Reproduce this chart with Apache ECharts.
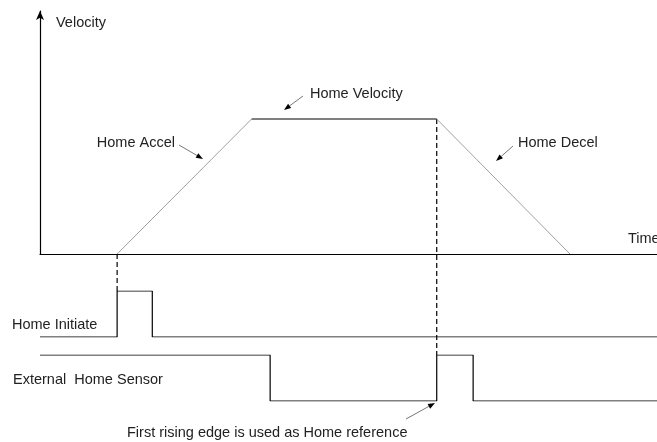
<!DOCTYPE html>
<html>
<head>
<meta charset="utf-8">
<script src="https://cdn.jsdelivr.net/npm/echarts@6/dist/echarts.min.js"></script>
<style>
  html, body { margin: 0; padding: 0; background: #fff; }
  #chart { width: 657px; height: 442px; }
</style>
</head>
<body>
<div id="chart"></div>
<script>
// time runs 0..100 along every trace
const velTime = [12.5, 34.3, 64.3, 85.9];
const velValue = [0, 1, 1, 0];
const initTime = [0, 12.5, 18.2, 100];
const initLevel = [0, 1, 0, 0];
const sensorTime = [0, 37.3, 64.3, 70.2, 100];
const sensorLevel = [1, 0, 1, 0, 0];

const FONT = '"Liberation Sans", Arial, sans-serif';
const TXT = '#222';

const chart = echarts.init(document.getElementById('chart'));

function pts(xs, ys, from, to) {
  let out = [];
  for (let i = from; i <= to; i++) out.push([xs[i], ys[i]]);
  return out;
}

function hiddenAxis(idx, extra) {
  return Object.assign({
    gridIndex: idx, type: 'value', min: 0, max: 100,
    show: false
  }, extra || {});
}

chart.setOption({
  animation: false,
  grid: [
    { left: 40, right: 0, top: 11, bottom: 188 },
    { left: 40, right: 0, top: 291, bottom: 105 },
    { left: 40, right: 0, top: 355, bottom: 41 }
  ],
  xAxis: [
    {
      gridIndex: 0, type: 'value', min: 0, max: 100,
      axisLine: { show: true, lineStyle: { color: '#000', width: 1.2 } },
      axisTick: { show: false }, axisLabel: { show: false }, splitLine: { show: false }
    },
    hiddenAxis(1),
    hiddenAxis(2)
  ],
  yAxis: [
    {
      gridIndex: 0, type: 'value', min: 0, max: 1.8,
      axisLine: { show: true, symbol: ['none', 'arrow'], symbolSize: [6, 9],
        lineStyle: { color: '#000', width: 1.2 } },
      axisTick: { show: false }, axisLabel: { show: false }, splitLine: { show: false }
    },
    { gridIndex: 1, type: 'value', min: 0, max: 1, show: false },
    { gridIndex: 2, type: 'value', min: 0, max: 1, show: false }
  ],
  series: [
    { name: 'accel', type: 'line', xAxisIndex: 0, yAxisIndex: 0, symbol: 'none',
      lineStyle: { color: '#a0a0a0', width: 1 }, data: pts(velTime, velValue, 0, 1) },
    { name: 'hold', type: 'line', xAxisIndex: 0, yAxisIndex: 0, symbol: 'none',
      lineStyle: { color: '#000', width: 1.2 }, data: pts(velTime, velValue, 1, 2) },
    { name: 'decel', type: 'line', xAxisIndex: 0, yAxisIndex: 0, symbol: 'none',
      lineStyle: { color: '#a0a0a0', width: 1 }, data: pts(velTime, velValue, 2, 3) },
    { name: 'initiate', type: 'line', xAxisIndex: 1, yAxisIndex: 1, symbol: 'none', step: 'end',
      lineStyle: { color: '#000', width: 1.2 }, data: pts(initTime, initLevel, 0, initTime.length - 1) },
    { name: 'sensor', type: 'line', xAxisIndex: 2, yAxisIndex: 2, symbol: 'none', step: 'end',
      lineStyle: { color: '#000', width: 1.2 }, data: pts(sensorTime, sensorLevel, 0, sensorTime.length - 1) }
  ]
});

// dashed guides, placed through the axes
const g1a = chart.convertToPixel({ gridIndex: 0 }, [velTime[0], velValue[0]]);
const g1b = chart.convertToPixel({ gridIndex: 1 }, [initTime[1], initLevel[1]]);
const g2a = chart.convertToPixel({ gridIndex: 0 }, [velTime[2], velValue[2]]);
const g2b = chart.convertToPixel({ gridIndex: 2 }, [sensorTime[2], sensorLevel[2]]);

function dashed(a, b) {
  return {
    type: 'line', shape: { x1: a[0], y1: a[1], x2: b[0], y2: b[1] },
    style: { stroke: '#000', lineWidth: 1.2, lineDash: [5, 3] }
  };
}

function arrow(x1, y1, x2, y2) {
  const ang = Math.atan2(y2 - y1, x2 - x1);
  const len = 7, half = 2.6;
  const bx = x2 - len * Math.cos(ang), by = y2 - len * Math.sin(ang);
  const nx = -Math.sin(ang) * half, ny = Math.cos(ang) * half;
  return [
    { type: 'line', shape: { x1: x1, y1: y1, x2: bx, y2: by },
      style: { stroke: '#555', lineWidth: 0.8 } },
    { type: 'polygon', shape: { points: [[x2, y2], [bx + nx, by + ny], [bx - nx, by - ny]] },
      style: { fill: '#000' } }
  ];
}

function label(text, x, y, align) {
  return {
    type: 'text', x: x, y: y,
    style: { text: text, fill: TXT, font: '14.5px ' + FONT, align: align || 'left', verticalAlign: 'middle' }
  };
}

chart.setOption({
  graphic: [
    dashed(g1a, g1b),
    dashed(g2a, g2b),
    label('Velocity', 56, 23),
    label('Home Accel', 175, 143, 'right'),
    label('Home Velocity', 310, 94),
    label('Home Decel', 518, 143),
    label('Time', 628, 239),
    label('Home Initiate', 12, 325),
    label('External  Home Sensor', 13, 380),
    label('First rising edge is used as Home reference', 127, 433)
  ]
    .concat(arrow(179, 145, 203, 159))
    .concat(arrow(303, 96, 284, 110))
    .concat(arrow(513, 146, 496, 161))
    .concat(arrow(406, 419, 435, 403))
});
</script>
</body>
</html>
